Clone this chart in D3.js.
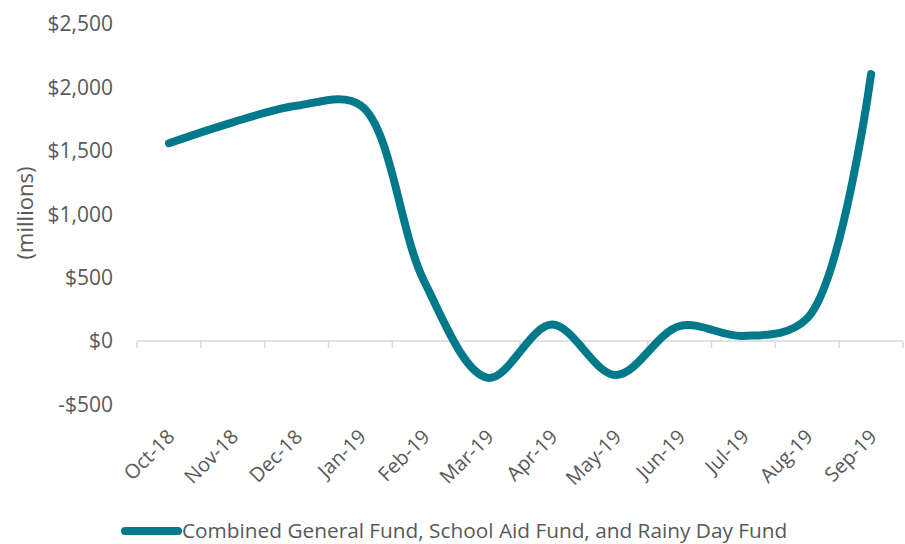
<!DOCTYPE html>
<html>
<head>
<meta charset="utf-8">
<script src="https://cdn.jsdelivr.net/npm/d3@7"></script>
<style>
  body { margin: 0; background: #fff; }
  text { font-family: "Open Sans", sans-serif; fill: #595959; }
</style>
</head>
<body>
<div id="chart"></div>
<script>
var months = ["Oct-18", "Nov-18", "Dec-18", "Jan-19", "Feb-19", "Mar-19",
              "Apr-19", "May-19", "Jun-19", "Jul-19", "Aug-19", "Sep-19"];
var balance = [1560, 1725, 1855, 1860, 470, -290, 130, -268, 118, 40, 180, 2105];
var yTicks = [-500, 0, 500, 1000, 1500, 2000, 2500];
var seriesName = "Combined General Fund, School Aid Fund, and Rainy Day Fund";

var width = 905, height = 544;
var lineColor = "#007A8A";

var svg = d3.select("#chart").append("svg")
	.attr("width", width)
	.attr("height", height);

var x = d3.scaleBand().domain(months).range([137, 903]);
var y = d3.scaleLinear().domain([-500, 2500]).range([404.5, 24]);

// y labels
svg.append("g").selectAll("text")
	.data(yTicks)
	.enter().append("text")
	.attr("x", 113)
	.attr("y", function(d) { return y(d); })
	.attr("dy", "0.35em")
	.style("text-anchor", "end")
	.style("font-size", "21px")
	.text(function(d) { return (d < 0 ? "-$" : "$") + d3.format(",")(Math.abs(d)); });

// axis line at zero with tick marks
svg.append("line")
	.attr("x1", 137).attr("x2", 903)
	.attr("y1", y(0)).attr("y2", y(0))
	.style("stroke", "#d9d9d9").style("stroke-width", 1.5);

var tickPos = months.map(function(m) { return x(m); }).concat([x.range()[1]]);
svg.append("g").selectAll("line")
	.data(tickPos)
	.enter().append("line")
	.attr("x1", function(d) { return d; }).attr("x2", function(d) { return d; })
	.attr("y1", y(0)).attr("y2", y(0) + 7)
	.style("stroke", "#d9d9d9").style("stroke-width", 1.5);

// x labels
svg.append("g").selectAll("text")
	.data(months)
	.enter().append("text")
	.attr("transform", function(d) {
		return "translate(" + (x(d) + x.bandwidth() / 2 + 2) + "," + (y(0) + 92) + ") rotate(-45)";
	})
	.attr("dy", "0.35em")
	.style("text-anchor", "end")
	.style("font-size", "20px")
	.text(function(d) { return d; });

// y title
svg.append("text")
	.attr("transform", "translate(25,213) rotate(-90)")
	.attr("dy", "0.35em")
	.style("text-anchor", "middle")
	.style("font-size", "22px")
	.text("(millions)");

// line
var line = d3.line()
	.x(function(d, i) { return x(months[i]) + x.bandwidth() / 2; })
	.y(function(d) { return y(d); })
	.curve(d3.curveCatmullRom.alpha(0.5));

svg.append("path")
	.datum(balance)
	.attr("d", line)
	.style("fill", "none")
	.style("stroke", lineColor)
	.style("stroke-width", 8)
	.style("stroke-linecap", "round")
	.style("stroke-linejoin", "round");

// legend
svg.append("line")
	.attr("x1", 125).attr("x2", 178)
	.attr("y1", 531).attr("y2", 531)
	.style("stroke", lineColor)
	.style("stroke-width", 8)
	.style("stroke-linecap", "round");

svg.append("text")
	.attr("x", 182)
	.attr("y", 531)
	.attr("dy", "0.35em")
	.style("font-size", "20.8px")
	.text(seriesName);
</script>
</body>
</html>
